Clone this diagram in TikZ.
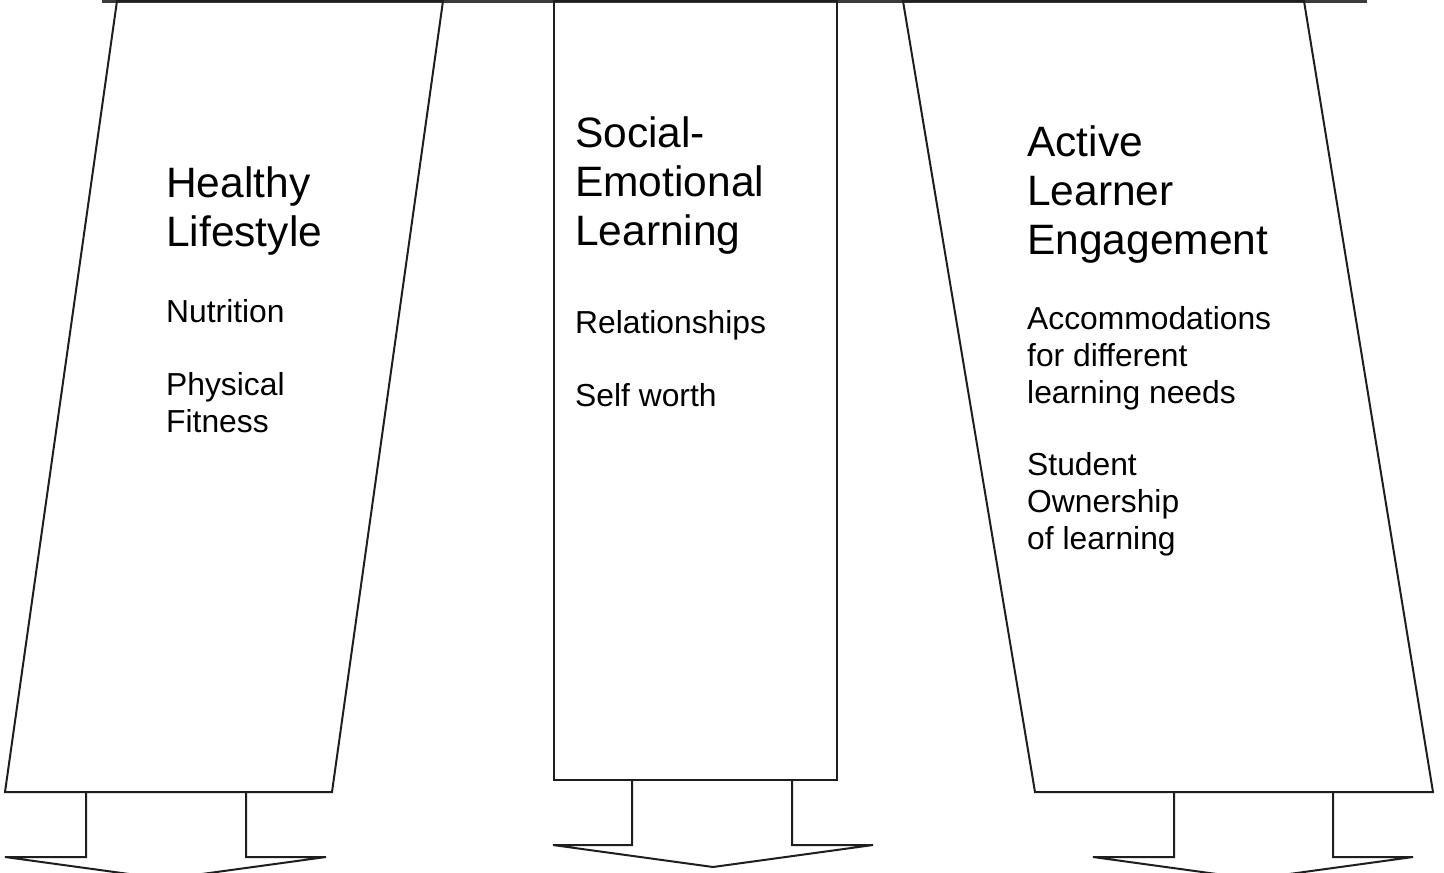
\documentclass[tikz,border=0pt]{standalone}
\usepackage{fontspec}
\setmainfont{Liberation Sans}
\definecolor{ink}{HTML}{1E1E1E}
\definecolor{bar}{HTML}{3A3A3A}
\begin{document}
\begin{tikzpicture}[x=1pt,y=-1pt,
  outline/.style={draw=ink,line width=2pt,line join=miter},
  topbar/.style={draw=bar,line width=3.2pt},
  % multi-line nodes sit on the baseline of their last line
  title/.style={anchor=base west,inner sep=0pt,align=left,
    font=\fontsize{42.5}{49}\selectfont},
  item/.style={anchor=base west,inner sep=0pt,align=left,
    font=\fontsize{31.8}{36.6}\selectfont}]
\useasboundingbox (0,0) rectangle (1444,873);

% common bar the three pillars hang from
\coordinate (barL) at (102,1);
\coordinate (barR) at (1367,1);
\draw[topbar] (barL) -- (barR);

% --- left pillar: Healthy Lifestyle ---
\draw[outline] (117,1) -- (443,1) -- (332,792) -- (5,792) -- cycle;
\draw[outline] (86,792) -- (86,857) -- (5,857) -- (165.5,879)
  -- (326,857) -- (246,857) -- (246,792);

% --- middle pillar: Social-Emotional Learning ---
\draw[outline] (554,1) -- (837,1) -- (837,780) -- (554,780) -- cycle;
\draw[outline] (632,780) -- (632,845) -- (553,845) -- (713,867)
  -- (873,845) -- (792,845) -- (792,780);

% --- right pillar: Active Learner Engagement ---
\draw[outline] (903,1) -- (1304,1) -- (1433,792) -- (1035,792) -- cycle;
\draw[outline] (1174,792) -- (1174,857) -- (1093,857) -- (1253,879)
  -- (1413,857) -- (1333,857) -- (1333,792);

% texts
\node[title] (hlT) at (166,246) {Healthy\\Lifestyle};
\node[item] (hl1) at (166,322) {Nutrition};
\node[item] (hl2) at (166,432) {Physical\\Fitness};

\node[title] (seT) at (575,245) {Social-\\Emotional\\Learning};
\node[item] (se1) at (575,333) {Relationships};
\node[item] (se2) at (575,406) {Self worth};

\node[title] (alT) at (1027,254) {Active\\Learner\\Engagement};
\node[item] (al1) at (1027,403) {Accommodations\\for different\\learning needs};
\node[item] (al2) at (1027,549) {Student\\Ownership\\of learning};
\end{tikzpicture}
\end{document}
